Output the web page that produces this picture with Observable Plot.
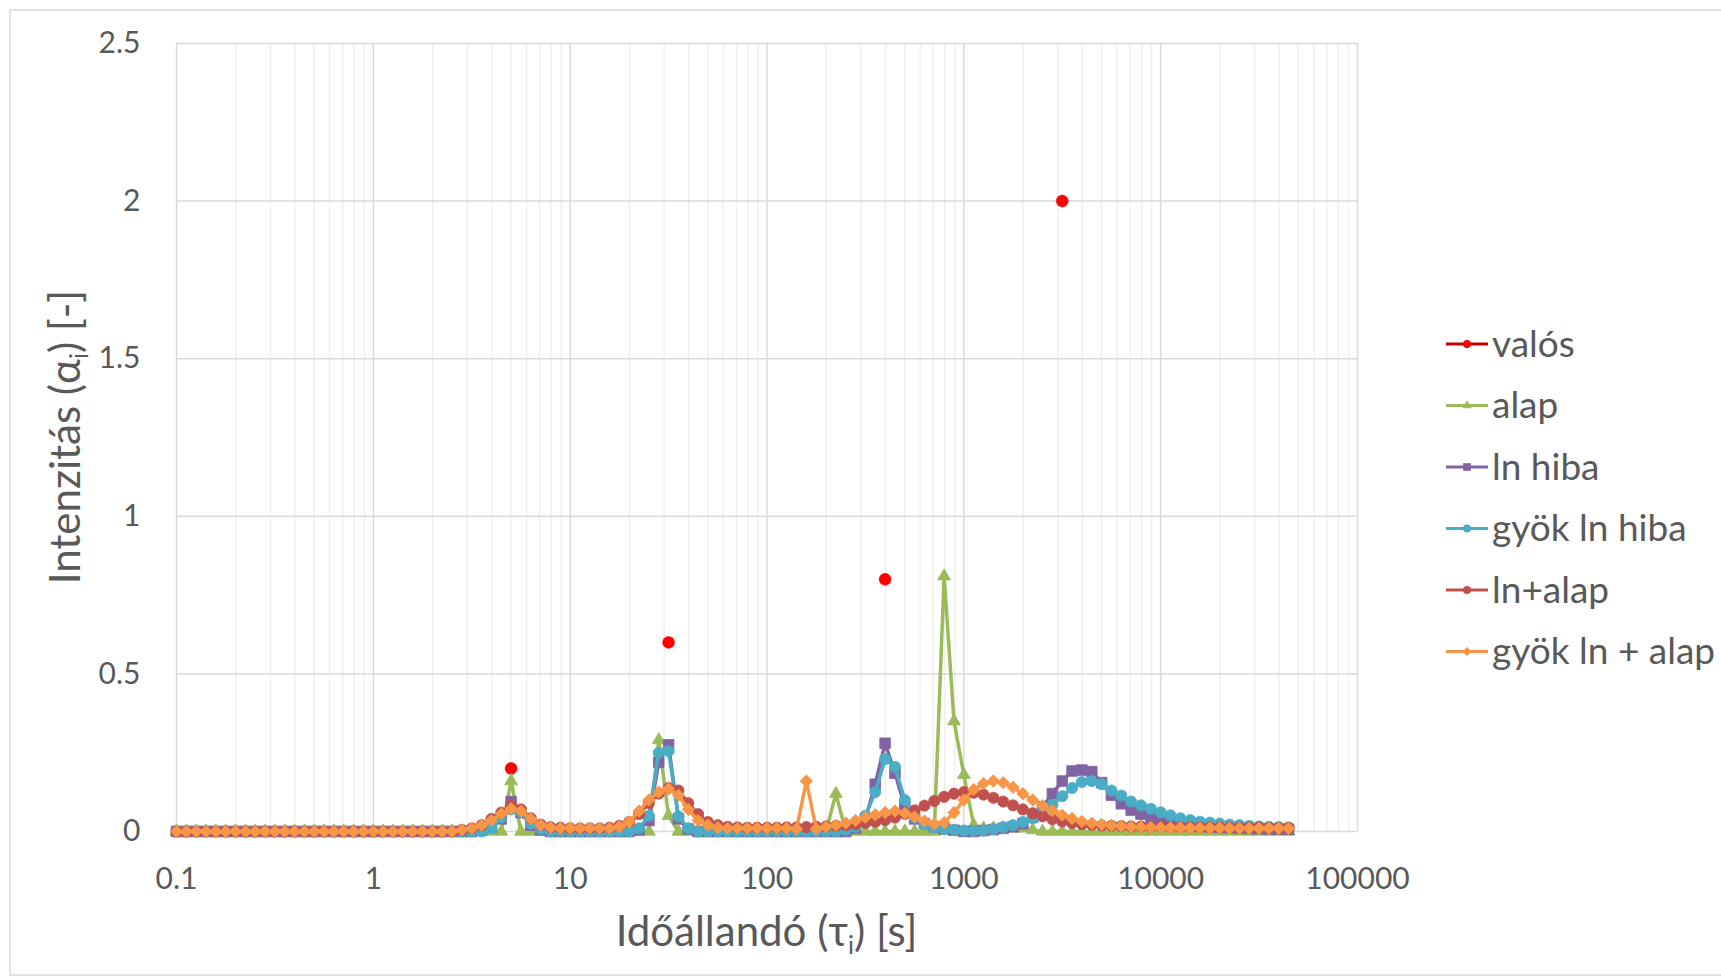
<!DOCTYPE html>
<html><head><meta charset="utf-8">
<script src="https://cdn.jsdelivr.net/npm/d3@7"></script>
<script src="https://cdn.jsdelivr.net/npm/@observablehq/plot@0.6"></script>
<style>
body{margin:0;background:#fff;}
#chart{position:relative;width:1721px;height:979px;overflow:hidden;}
</style></head><body><div id="chart"></div>
<script>
// time-constant grid (s)
const tau = [
  0.1, 0.1122, 0.1259, 0.1413, 0.1585, 0.1778, 0.1995, 0.2239, 0.2512, 0.2818,
  0.3162, 0.3548, 0.3981, 0.4467, 0.5012, 0.5623, 0.631, 0.7079, 0.7943, 0.8913,
  1, 1.122, 1.259, 1.413, 1.585, 1.778, 1.995, 2.239, 2.512, 2.818,
  3.162, 3.548, 3.981, 4.467, 5.012, 5.623, 6.31, 7.079, 7.943, 8.913,
  10, 11.22, 12.59, 14.13, 15.85, 17.78, 19.95, 22.39, 25.12, 28.18,
  31.62, 35.48, 39.81, 44.67, 50.12, 56.23, 63.1, 70.79, 79.43, 89.13,
  100, 112.2, 125.9, 141.3, 158.5, 177.8, 199.5, 223.9, 251.2, 281.8,
  316.2, 354.8, 398.1, 446.7, 501.2, 562.3, 631, 707.9, 794.3, 891.3,
  1000, 1122, 1259, 1413, 1585, 1778, 1995, 2239, 2512, 2818,
  3162, 3548, 3981, 4467, 5012, 5623, 6310, 7079, 7943, 8913,
  10000, 11220, 12590, 14130, 15850, 17780, 19950, 22390, 25120, 28180,
  31620, 35480, 39810, 44670
];

const valosTau = [5.012, 31.62, 398.1, 3162];
const valosValues = [0.2, 0.6, 0.8, 2.0];

const alap = [
  0,0,0,0,0,0,0,0,0,0,
  0,0,0,0,0,0,0,0,0,0,
  0,0,0,0,0,0,0,0,0,0,
  0,0,0,0,0.16,0,0,0,0,0,
  0,0,0,0,0,0,0,0,0,0.29,
  0.05,0,0,0,0,0,0,0,0,0,
  0,0,0,0,0,0,0,0.12,0,0,
  0,0,0,0,0,0,0,0,0.81,0.35,
  0.18,0.02,0.01,0.01,0.01,0.01,0.01,0.005,0,0,
  0,0,0,0,0,0,0,0,0,0,
  0,0,0,0,0,0,0,0,0,0,
  0,0,0,0
];
const lnHiba = [
  0,0,0,0,0,0,0,0,0,0,
  0,0,0,0,0,0,0,0,0,0,
  0,0,0,0,0,0,0,0,0,0,
  0,0.005,0.015,0.04,0.095,0.06,0.02,0.005,0,0,
  0,0,0,0,0,0,0,0.005,0.035,0.22,
  0.275,0.04,0.008,0,0,0,0,0,0,0,
  0,0,0,0,0,0,0,0,0,0.01,
  0.04,0.15,0.28,0.185,0.08,0.04,0.025,0.015,0.008,0.004,
  0,0,0.003,0.006,0.01,0.015,0.025,0.045,0.078,0.12,
  0.16,0.192,0.195,0.19,0.155,0.115,0.088,0.068,0.055,0.045,
  0.035,0.029,0.024,0.02,0.017,0.015,0.013,0.012,0.011,0.01,
  0.009,0.008,0.008,0.007
];
const gyokLnHiba = [
  0,0,0,0,0,0,0,0,0,0,
  0,0,0,0,0,0,0,0,0,0,
  0,0,0,0,0,0,0,0,0,0,
  0,0,0.01,0.045,0.07,0.062,0.025,0.008,0,0,
  0,0,0,0,0,0,0,0.01,0.05,0.25,
  0.255,0.048,0.01,0,0,0,0,0,0,0,
  0,0,0,0,0,0,0,0,0.005,0.015,
  0.05,0.125,0.23,0.205,0.1,0.045,0.024,0.013,0.008,0.005,
  0.003,0.002,0.003,0.008,0.014,0.02,0.03,0.042,0.058,0.085,
  0.112,0.138,0.157,0.16,0.15,0.13,0.114,0.095,0.083,0.072,
  0.061,0.051,0.042,0.036,0.031,0.028,0.025,0.022,0.02,0.018,
  0.016,0.015,0.014,0.013
];
const lnAlap = [
  0,0,0,0,0,0,0,0,0,0,
  0,0,0,0,0,0,0,0,0,0,
  0,0,0,0,0,0,0,0,0,0.005,
  0.01,0.02,0.04,0.06,0.082,0.07,0.042,0.022,0.014,0.012,
  0.01,0.01,0.01,0.01,0.012,0.018,0.03,0.055,0.09,0.12,
  0.138,0.13,0.09,0.055,0.03,0.02,0.015,0.013,0.012,0.012,
  0.012,0.012,0.013,0.013,0.014,0.015,0.016,0.018,0.02,0.023,
  0.027,0.031,0.036,0.044,0.056,0.067,0.082,0.097,0.11,0.12,
  0.125,0.123,0.117,0.107,0.095,0.083,0.07,0.058,0.048,0.039,
  0.032,0.027,0.023,0.021,0.019,0.018,0.017,0.016,0.016,0.015,
  0.015,0.014,0.014,0.014,0.013,0.013,0.013,0.012,0.012,0.012,
  0.012,0.011,0.011,0.011
];
const gyokLnAlap = [
  0,0,0,0,0,0,0,0,0,0,
  0,0,0,0,0,0,0,0,0,0,
  0,0,0,0,0,0,0,0,0,0.005,
  0.01,0.02,0.035,0.056,0.072,0.065,0.04,0.02,0.013,0.01,
  0.01,0.01,0.01,0.01,0.01,0.015,0.03,0.065,0.1,0.125,
  0.135,0.115,0.07,0.035,0.02,0.012,0.01,0.01,0.01,0.01,
  0.01,0.01,0.01,0.008,0.16,0.008,0.015,0.02,0.027,0.035,
  0.045,0.053,0.06,0.065,0.058,0.046,0.033,0.024,0.028,0.06,
  0.1,0.133,0.152,0.16,0.155,0.14,0.12,0.1,0.082,0.066,
  0.052,0.041,0.032,0.026,0.022,0.019,0.017,0.015,0.014,0.013,
  0.012,0.012,0.012,0.011,0.011,0.011,0.011,0.01,0.01,0.01,
  0.01,0.01,0.01,0.01
];

const seriesNames = ["valós", "alap", "ln hiba", "gyök ln hiba", "ln+alap", "gyök ln + alap"];
const xTicks = [0.1, 1, 10, 100, 1000, 10000, 100000];
const xTickLabels = ["0.1", "1", "10", "100", "1000", "10000", "100000"];
const yTicks = [0, 0.5, 1, 1.5, 2, 2.5];
const yTickLabels = ["0", "0.5", "1", "1.5", "2", "2.5"];

const lineSeries = [
  {name: seriesNames[1], values: alap, color: "#9BBB59", symbol: "triangle", r: 4.8},
  {name: seriesNames[2], values: lnHiba, color: "#8064A2", symbol: "square", r: 6},
  {name: seriesNames[3], values: gyokLnHiba, color: "#4BACC6", symbol: "circle", r: 5.6},
  {name: seriesNames[4], values: lnAlap, color: "#C0504D", symbol: "circle", r: 5.6},
  {name: seriesNames[5], values: gyokLnAlap, color: "#F79646", symbol: "diamond2", r: 5.6}
];
const valosRows = valosTau.map((t, i) => ({tau: t, v: valosValues[i]}));

const isDecade = t => Math.abs(Math.log10(t) - Math.round(Math.log10(t))) < 1e-9;
const minorTicks = d3.scaleLog().domain([0.1, 100000]).ticks().filter(t => !isDecade(t));

const marks = [
  Plot.ruleX(minorTicks, {stroke: "#eeeeee", strokeWidth: 1.3}),
  Plot.ruleX(xTicks, {stroke: "#d9d9d9", strokeWidth: 1.5}),
  Plot.ruleY(yTicks, {stroke: "#d9d9d9", strokeWidth: 1.5}),
  Plot.axisX({ticks: xTicks, tickFormat: d => xTickLabels[xTicks.indexOf(d)], tickSize: 0, tickPadding: 36, label: null, fontSize: 30, fill: "#595959"}),
  Plot.axisY({ticks: yTicks, tickFormat: d => yTickLabels[yTicks.indexOf(d)], tickSize: 0, tickPadding: 36, label: null, fontSize: 30, fill: "#595959"}),
  Plot.dot(valosRows, {x: "tau", y: "v", r: 6, fill: "#FF0000", stroke: "#FF0000", strokeWidth: 0.5})
];
for (const s of lineSeries) {
  const rows = tau.map((t, i) => ({tau: t, v: s.values[i]}));
  marks.push(Plot.line(rows, {x: "tau", y: "v", stroke: s.color, strokeWidth: 3.5, strokeLinejoin: "round"}));
  marks.push(Plot.dot(rows, {x: "tau", y: "v", symbol: s.symbol, r: s.r, fill: s.color, stroke: s.color, strokeWidth: 0.8}));
}

const plot = Plot.plot({
  width: 1721, height: 979,
  marginLeft: 176, marginRight: 364, marginTop: 43, marginBottom: 148,
  style: {fontFamily: "Lato, 'Open Sans', sans-serif", fontSize: "30px", color: "#595959", background: "transparent", overflow: "visible"},
  x: {type: "log", domain: [0.1, 100000]},
  y: {domain: [0, 2.5]},
  marks
});
document.getElementById("chart").appendChild(plot);

const svg = d3.select(plot);
const xr = plot.scale("x").range, yr = plot.scale("y").range;
const font = "Lato, 'Open Sans', 'DejaVu Sans', sans-serif";

// chart area border
svg.insert("rect", ":first-child").attr("x", 10).attr("y", 10).attr("width", 1800).attr("height", 965)
  .attr("fill", "none").attr("stroke", "#d9d9d9").attr("stroke-width", 1.5);

// axis titles
const xt = svg.append("text").attr("x", (xr[0] + xr[1]) / 2).attr("y", yr[0] + 115)
  .attr("text-anchor", "middle").attr("font-family", font).attr("font-size", 42).attr("fill", "#595959");
xt.append("tspan").text("Időállandó (τ");
xt.append("tspan").attr("font-size", 25).attr("dy", 8).text("i");
xt.append("tspan").attr("dy", -8).text(") [s]");

const yt = svg.append("text").attr("transform", `translate(${xr[0] - 96},${(yr[0] + yr[1]) / 2}) rotate(-90)`)
  .attr("text-anchor", "middle").attr("font-family", font).attr("font-size", 42).attr("fill", "#595959");
yt.append("tspan").text("Intenzitás (α");
yt.append("tspan").attr("font-size", 25).attr("dy", 8).text("i");
yt.append("tspan").attr("dy", -8).text(") [-]");

// legend
const symbolMap = {triangle: d3.symbolTriangle, square: d3.symbolSquare, circle: d3.symbolCircle, diamond2: d3.symbolDiamond2};
const legendItems = [
  {name: seriesNames[0], color: "#FF0000", line: "#C00000", symbol: d3.symbolCircle, r: 4},
  ...lineSeries.map(s => ({name: s.name, color: s.color, line: s.color, symbol: symbolMap[s.symbol], r: s.r * 0.72}))
];
const lg = svg.append("g").attr("transform", `translate(${xr[1] + 89},${yr[1] + 301})`);
legendItems.forEach((it, i) => {
  const g = lg.append("g").attr("transform", `translate(0,${i * 61.5})`);
  g.append("line").attr("x1", 0).attr("x2", 42).attr("stroke", it.line).attr("stroke-width", 3);
  g.append("path").attr("transform", "translate(21,0)").attr("d", d3.symbol(it.symbol, it.r * it.r * Math.PI)()).attr("fill", it.color);
  g.append("text").attr("x", 46).attr("dy", "0.35em").attr("text-anchor", "start").attr("font-family", font).attr("font-size", 37).attr("fill", "#595959").text(it.name);
});
</script></body></html>
